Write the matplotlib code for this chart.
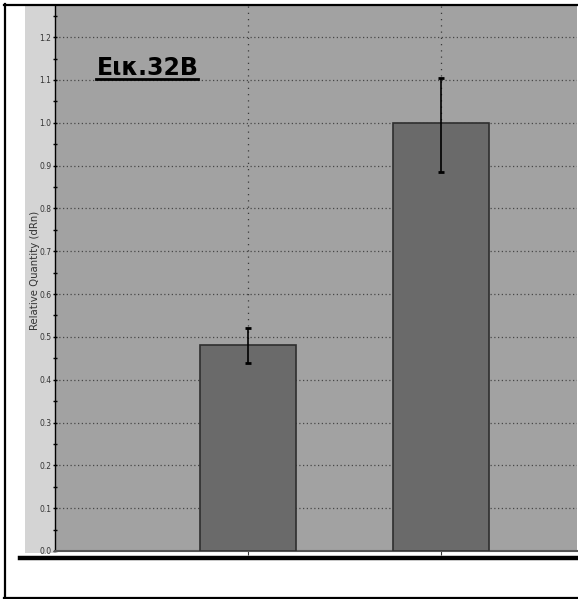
import matplotlib
matplotlib.use("Agg")
import matplotlib.pyplot as plt
from matplotlib.lines import Line2D
from matplotlib.patches import Rectangle
import numpy as np

# ---- data ----
positions = [1, 2]
values = [0.48, 1.00]
err_low = [0.04, 0.114]
err_high = [0.04, 0.105]
ytick_values = [0.0, 0.1, 0.2, 0.3, 0.4, 0.5, 0.6, 0.7, 0.8, 0.9, 1.0, 1.1, 1.2]
ytick_labels = ["0.0", "0.1", "0.2", "0.3", "0.4", "0.5", "0.6", "0.7", "0.8", "0.9", "1.0", "1.1", "1.2"]
ylabel = "Relative Quantity (dRn)"
title = "Εικ.32Β"

W, H = 578, 599
fig = plt.figure(figsize=(W / 100, H / 100), dpi=100)
fig.patch.set_facecolor("white")

def fx(x):
    return x / W

def fy(y):
    return 1 - y / H

# light gray strip for y-axis label area
fig.add_artist(Rectangle((fx(25), fy(553)), fx(55) - fx(25), fy(5) - fy(553),
                         facecolor="#d4d4d4", edgecolor="none", zorder=0))

ax = fig.add_axes([fx(55), fy(551), fx(577) - fx(55), fy(5) - fy(551)])
ax.set_facecolor("#a2a2a2")

ax.bar(positions, values, width=0.5, color="#6a6a6a", edgecolor="#2e2e2e",
       linewidth=1.2, zorder=3)
ax.errorbar(positions, values, yerr=[err_low, err_high], fmt="none",
            ecolor="black", elinewidth=1.2, capsize=2.5, capthick=2, zorder=4)

ax.set_xlim(0.0, 2.705)
ax.set_ylim(0, 1.275)
ax.set_yticks(ytick_values)
ax.set_yticklabels(ytick_labels)
ax.set_yticks(np.arange(0.05, 1.27, 0.1), minor=True)
ax.set_xticks(positions)
ax.set_xticklabels([])

ax.grid(axis="y", which="major", linestyle=(0, (1, 2)), color="#484848", linewidth=0.9, zorder=1)
ax.grid(axis="x", which="major", linestyle=(0, (1, 4)), color="#3a3a3a", linewidth=0.9, zorder=1)
ax.set_axisbelow(True)

ax.tick_params(axis="y", which="both", direction="inout", length=3, width=1.0,
               color="black", labelsize=5.5, labelcolor="#333333", pad=1)
ax.tick_params(axis="x", which="major", direction="out", length=3, width=0.8, color="#333333")

for s in ["top", "right"]:
    ax.spines[s].set_visible(False)
ax.spines["left"].set_color("black")
ax.spines["left"].set_linewidth(1.0)
ax.spines["bottom"].set_color("#555555")
ax.spines["bottom"].set_linewidth(1.5)

fig.text(fx(35), fy(270), ylabel, rotation=90, ha="center", va="center",
         fontsize=7.3, color="#333333")

t = fig.text(fx(97), fy(75), title, ha="left", va="baseline", fontsize=17,
             fontweight="bold", color="black")
fig.add_artist(Line2D([fx(96), fx(198)], [fy(79), fy(79)], color="black", linewidth=2))

# outer frame and thick baseline
fig.add_artist(Line2D([fx(4.5), fx(4.5)], [fy(4), fy(598)], color="black", linewidth=1.6))
fig.add_artist(Line2D([fx(4), fx(578)], [fy(4.5), fy(4.5)], color="black", linewidth=1.6))
fig.add_artist(Line2D([fx(4), fx(578)], [fy(597.5), fy(597.5)], color="black", linewidth=1.6))
fig.add_artist(Line2D([fx(20), fx(577)], [fy(558), fy(558)], color="black", linewidth=3.2))

fig.savefig("out.png", dpi=100)
